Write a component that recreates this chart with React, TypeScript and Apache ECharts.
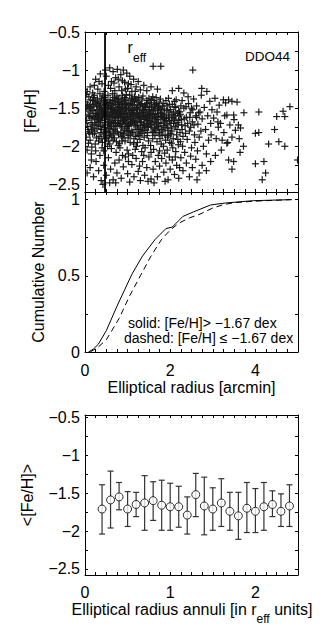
import React, { useEffect, useRef } from 'react';
import * as echarts from 'echarts';

// ---------- Data ----------
// Top panel: [Fe/H] vs elliptical radius (arcmin)
const scatterPoints: number[][] = [
  // upper fringe
  [0.12,-1.22],[0.18,-1.3],[0.25,-1.12],[0.3,-1.25],[0.36,-1.05],[0.4,-1.18],[0.45,-1.28],[0.5,-1.08],[0.55,-1.2],[0.58,-0.97],
  [0.62,-1.15],[0.66,-1.02],[0.7,-1.27],[0.72,-1.1],[0.76,-0.99],[0.8,-1.22],[0.84,-1.06],[0.88,-1.14],[0.9,-1.0],[0.95,-1.25],
  [0.98,-1.04],[1.02,-1.18],[1.05,-1.08],[1.1,-1.28],[1.14,-1.12],[1.2,-1.22],[1.25,-1.15],[1.3,-1.26],[0.05,-1.28],[0.22,-1.2],
  [0.33,-1.15],[0.48,-1.0],[0.6,-1.24],[0.68,-1.17],[0.78,-1.12],[0.86,-1.27],[0.93,-1.16],[1.0,-1.24],[1.08,-1.19],[1.18,-1.28],
  [1.38,-1.2],[1.45,-1.27],[1.6,-0.95],[1.78,-0.95],[2.53,-1.0],[1.55,-1.22],[1.7,-1.25],[2.05,-1.27],[2.2,-1.24],[2.32,-1.3],
  // dense core
  [0.02,-1.42],[0.04,-1.66],[0.07,-1.51],[0.03,-1.88],[0.09,-1.35],[0.06,-1.74],[0.01,-1.58],[0.08,-1.96],[0.05,-2.05],[0.1,-1.47],[0.04,-1.32],[0.08,-1.81],
  [0.11,-1.61],[0.13,-1.39],[0.15,-1.78],[0.12,-1.92],[0.17,-1.53],[0.19,-1.45],[0.14,-1.69],[0.16,-2.01],[0.18,-1.84],[0.2,-1.36],[0.12,-1.55],[0.17,-1.72],[0.15,-2.1],[0.19,-1.62],
  [0.21,-1.48],[0.23,-1.71],[0.25,-1.57],[0.27,-1.89],[0.22,-1.33],[0.29,-1.65],[0.24,-1.97],[0.26,-1.43],[0.28,-1.77],[0.3,-1.52],[0.22,-1.83],[0.27,-1.6],[0.25,-2.06],[0.29,-1.38],[0.23,-1.64],
  [0.31,-1.44],[0.33,-1.68],[0.35,-1.55],[0.37,-1.82],[0.39,-1.37],[0.32,-1.93],[0.34,-1.49],[0.36,-1.74],[0.38,-1.61],[0.4,-2.02],[0.31,-1.59],[0.35,-1.31],[0.37,-1.46],[0.39,-1.78],[0.33,-1.87],[0.36,-1.66],[0.4,-1.53],
  [0.41,-1.62],[0.43,-1.4],[0.45,-1.75],[0.47,-1.51],[0.49,-1.88],[0.42,-1.34],[0.44,-1.57],[0.46,-1.69],[0.48,-1.45],[0.5,-1.8],[0.41,-1.95],[0.45,-1.36],[0.47,-1.63],[0.43,-1.84],[0.49,-1.55],[0.44,-2.06],[0.5,-1.42],
  [0.51,-1.58],[0.53,-1.72],[0.55,-1.47],[0.57,-1.86],[0.59,-1.39],[0.52,-1.65],[0.54,-1.33],[0.56,-1.6],[0.58,-1.77],[0.6,-1.52],[0.51,-1.9],[0.55,-1.68],[0.57,-1.43],[0.53,-2.0],[0.59,-1.62],[0.52,-1.49],[0.58,-1.97],[0.56,-1.81],
  [0.61,-1.44],[0.63,-1.67],[0.65,-1.55],[0.67,-1.83],[0.69,-1.36],[0.62,-1.74],[0.64,-1.5],[0.66,-1.92],[0.68,-1.61],[0.7,-1.41],[0.61,-1.58],[0.65,-1.31],[0.67,-1.7],[0.63,-1.88],[0.69,-1.53],[0.62,-2.03],[0.68,-1.78],[0.66,-1.46],
  [0.71,-1.57],[0.73,-1.38],[0.75,-1.73],[0.77,-1.49],[0.79,-1.85],[0.72,-1.63],[0.74,-1.94],[0.76,-1.42],[0.78,-1.66],[0.8,-1.55],[0.71,-1.8],[0.75,-1.34],[0.77,-1.6],[0.73,-2.08],[0.79,-1.45],[0.72,-1.7],[0.78,-1.99],[0.76,-1.52],
  [0.81,-1.48],[0.83,-1.71],[0.85,-1.39],[0.87,-1.62],[0.89,-1.89],[0.82,-1.56],[0.84,-1.82],[0.86,-1.45],[0.88,-1.33],[0.9,-1.67],[0.81,-1.96],[0.85,-1.59],[0.87,-1.76],[0.83,-1.52],[0.89,-1.41],[0.82,-2.02],[0.88,-1.64],[0.86,-1.87],
  [0.91,-1.54],[0.93,-1.36],[0.95,-1.69],[0.97,-1.47],[0.99,-1.81],[0.92,-1.61],[0.94,-1.93],[0.96,-1.4],[0.98,-1.58],[1.0,-1.73],[0.91,-1.85],[0.95,-1.5],[0.97,-1.32],[0.93,-1.66],[0.99,-2.05],[0.92,-1.44],[0.98,-1.77],[0.96,-1.62],
  [1.01,-1.43],[1.03,-1.65],[1.05,-1.52],[1.07,-1.84],[1.09,-1.37],[1.02,-1.74],[1.04,-1.58],[1.06,-1.95],[1.08,-1.46],[1.1,-1.68],[1.01,-1.89],[1.05,-1.33],[1.07,-1.61],[1.03,-1.79],[1.09,-1.55],[1.02,-2.1],[1.08,-1.7],
  [1.11,-1.56],[1.13,-1.41],[1.15,-1.72],[1.17,-1.49],[1.19,-1.87],[1.12,-1.63],[1.14,-1.97],[1.16,-1.35],[1.18,-1.6],[1.2,-1.78],[1.11,-1.45],[1.15,-1.9],[1.17,-1.67],[1.13,-1.53],[1.19,-1.38],[1.12,-1.82],[1.18,-2.04],
  [1.21,-1.5],[1.23,-1.73],[1.25,-1.42],[1.27,-1.64],[1.29,-1.91],[1.22,-1.57],[1.24,-1.84],[1.26,-1.36],[1.28,-1.55],[1.3,-1.69],[1.21,-2.0],[1.25,-1.61],[1.27,-1.46],[1.23,-1.95],[1.29,-1.78],[1.22,-1.4],
  [1.31,-1.62],[1.33,-1.44],[1.35,-1.76],[1.37,-1.53],[1.39,-1.88],[1.32,-1.68],[1.34,-1.38],[1.36,-1.99],[1.38,-1.59],[1.4,-1.47],[1.31,-1.81],[1.35,-1.56],[1.37,-1.71],[1.33,-2.07],[1.39,-1.65],[1.36,-1.34],
  [1.41,-1.55],[1.43,-1.79],[1.45,-1.4],[1.47,-1.66],[1.49,-1.93],[1.42,-1.48],[1.44,-1.7],[1.46,-1.86],[1.48,-1.58],[1.5,-1.37],[1.41,-2.02],[1.45,-1.62],[1.47,-1.82],[1.43,-1.52],[1.49,-1.74],
  [1.51,-1.6],[1.53,-1.43],[1.55,-1.75],[1.57,-1.52],[1.59,-1.9],[1.52,-1.68],[1.54,-1.99],[1.56,-1.39],[1.58,-1.64],[1.6,-1.81],[1.51,-1.49],[1.55,-2.08],[1.57,-1.71],[1.53,-1.57],[1.59,-1.35],
  [1.61,-1.53],[1.63,-1.77],[1.65,-1.46],[1.67,-1.63],[1.69,-1.94],[1.62,-1.4],[1.64,-1.86],[1.66,-1.58],[1.68,-1.72],[1.7,-1.5],[1.61,-2.04],[1.65,-1.67],[1.67,-1.36],[1.63,-1.61],
  [1.71,-1.65],[1.73,-1.48],[1.75,-1.82],[1.77,-1.56],[1.79,-1.97],[1.72,-1.74],[1.74,-1.42],[1.76,-1.9],[1.78,-1.61],[1.8,-1.78],[1.71,-1.53],[1.75,-2.06],[1.77,-1.38],[1.73,-1.69],
  [1.81,-1.57],[1.83,-1.8],[1.85,-1.44],[1.87,-1.68],[1.89,-1.92],[1.82,-1.62],[1.84,-2.0],[1.86,-1.51],[1.88,-1.75],[1.9,-1.4],[1.81,-1.86],[1.85,-1.64],[1.87,-2.09],
  [1.91,-1.63],[1.93,-1.47],[1.95,-1.79],[1.97,-1.55],[1.99,-1.95],[1.92,-1.72],[1.94,-1.88],[1.96,-1.37],[1.98,-1.67],[2.0,-1.83],[1.93,-2.05],[1.97,-1.6],
  [2.01,-1.52],[2.03,-1.76],[2.05,-1.45],[2.07,-1.9],[2.09,-1.64],[2.02,-1.84],[2.04,-1.58],[2.06,-2.02],[2.08,-1.7],[2.1,-1.41],[2.03,-1.96],[2.07,-1.62],
  [2.11,-1.66],[2.13,-1.49],[2.15,-1.85],[2.17,-1.57],[2.19,-1.98],[2.12,-1.74],[2.14,-1.39],[2.16,-1.69],[2.18,-1.91],[2.2,-1.54],[2.13,-2.07],
  [2.21,-1.6],[2.23,-1.82],[2.25,-1.47],[2.27,-1.72],[2.29,-2.0],[2.22,-1.55],[2.24,-1.94],[2.26,-1.65],[2.28,-1.4],[2.3,-1.87],
  // dense core, second layer
  [0.03,-1.5],[0.06,-1.45],[0.09,-1.6],[0.11,-1.83],[0.14,-1.48],[0.16,-1.63],[0.19,-1.76],[0.21,-1.57],[0.24,-1.41],[0.26,-1.69],
  [0.28,-1.52],[0.31,-1.73],[0.33,-1.58],[0.35,-1.42],[0.37,-1.66],[0.39,-1.51],[0.42,-1.72],[0.44,-1.47],[0.46,-1.6],[0.48,-1.82],
  [0.02,-1.7],[0.07,-1.78],[0.13,-1.5],[0.18,-1.4],[0.23,-1.8],[0.27,-1.46],[0.32,-1.64],[0.38,-1.9],[0.43,-1.55],[0.47,-1.43],
  [0.52,-1.55],[0.54,-1.76],[0.56,-1.5],[0.58,-1.69],[0.6,-1.84],[0.62,-1.47],[0.64,-1.62],[0.66,-1.78],[0.68,-1.53],[0.7,-1.66],
  [0.72,-1.45],[0.74,-1.59],[0.76,-1.81],[0.78,-1.51],[0.8,-1.7],[0.82,-1.43],[0.84,-1.61],[0.86,-1.74],[0.88,-1.5],[0.9,-1.83],
  [0.92,-1.57],[0.94,-1.45],[0.96,-1.71],[0.98,-1.52],[1.0,-1.63],[0.53,-1.43],[0.57,-1.61],[0.61,-1.72],[0.65,-1.4],[0.69,-1.89],
  [0.73,-1.55],[0.77,-1.69],[0.81,-1.58],[0.85,-1.49],[0.89,-1.68],[0.93,-1.79],[0.97,-1.56],[0.55,-1.93],[0.63,-1.56],[0.71,-1.74],
  [0.79,-1.37],[0.87,-1.93],[0.95,-1.38],
  [1.02,-1.5],[1.04,-1.71],[1.06,-1.44],[1.08,-1.59],[1.1,-1.8],[1.12,-1.52],[1.14,-1.66],[1.16,-1.46],[1.18,-1.73],[1.2,-1.58],
  [1.22,-1.67],[1.24,-1.49],[1.26,-1.78],[1.28,-1.62],[1.3,-1.45],[1.32,-1.56],[1.34,-1.83],[1.36,-1.6],[1.38,-1.48],[1.4,-1.73],
  [1.42,-1.63],[1.44,-1.44],[1.46,-1.75],[1.48,-1.52],[1.5,-1.66],[1.03,-1.86],[1.07,-1.68],[1.11,-1.39],[1.15,-1.58],[1.19,-1.69],
  [1.23,-1.52],[1.27,-1.86],[1.31,-1.72],[1.35,-1.51],[1.39,-1.79],[1.43,-1.6],[1.47,-1.43],
  [1.52,-1.55],[1.54,-1.72],[1.56,-1.48],[1.58,-1.82],[1.6,-1.58],[1.62,-1.69],[1.64,-1.51],[1.66,-1.79],[1.68,-1.44],[1.7,-1.62],
  [1.72,-1.57],[1.74,-1.84],[1.76,-1.5],[1.78,-1.7],[1.8,-1.6],[1.82,-1.47],[1.84,-1.73],[1.86,-1.58],[1.88,-1.85],[1.9,-1.66],
  [1.92,-1.53],[1.94,-1.76],[1.96,-1.62],[1.98,-1.45],[2.0,-1.7],[2.04,-1.8],[2.08,-1.55],[2.12,-1.6],[2.16,-1.78],[2.2,-1.66],
  [1.55,-1.63],[1.63,-1.45],[1.71,-1.76],[1.79,-1.52],[1.87,-1.63],[1.95,-1.86],[2.03,-1.66],[2.11,-1.48],[2.19,-1.72],
  [2.24,-1.58],[2.28,-1.78],[2.33,-1.64],[2.37,-1.48],[2.41,-1.7],[2.46,-1.62],[2.5,-1.5],[2.56,-1.72],[2.62,-1.62],[2.67,-1.56],
  // intermediate radii
  [2.32,-1.5],[2.35,-1.73],[2.38,-1.62],[2.4,-1.91],[2.43,-1.44],[2.45,-1.8],[2.47,-1.56],[2.5,-2.02],[2.52,-1.68],[2.55,-1.38],
  [2.57,-1.85],[2.6,-1.6],[2.34,-2.08],[2.42,-1.35],[2.48,-1.75],[2.58,-1.95],[2.36,-1.83],[2.53,-1.52],
  [2.62,-1.47],[2.65,-1.71],[2.68,-1.88],[2.7,-1.55],[2.73,-1.33],[2.75,-1.64],[2.78,-2.0],[2.8,-1.49],[2.83,-1.78],[2.86,-1.28],
  [2.88,-1.6],[2.9,-1.92],[2.93,-1.41],[2.95,-1.7],[2.98,-1.52],[2.64,-2.06],[2.72,-1.8],[2.85,-2.1],[2.74,-1.24],[2.96,-1.85],
  [3.02,-1.63],[3.05,-1.37],[3.08,-1.9],[3.1,-1.55],[3.13,-1.75],[3.15,-1.46],[3.18,-1.7],[3.2,-2.05],[3.22,-1.92],[3.25,-1.39],
  [3.28,-1.6],[3.3,-1.43],[3.33,-1.96],[3.06,-2.12],[3.12,-1.68],[3.26,-1.82],
  // outer sparse stars
  [3.37,-1.39],[3.45,-1.41],[3.57,-1.42],[3.33,-1.59],[3.49,-1.59],[3.73,-1.56],[4.08,-1.55],[4.5,-1.61],[4.65,-1.54],[4.69,-1.61],
  [4.81,-1.48],[3.53,-1.79],[3.65,-1.76],[3.6,-1.72],[4.0,-1.83],[4.08,-1.82],[4.45,-1.78],[4.31,-1.97],[4.55,-1.94],[4.69,-2.0],
  [3.35,-1.95],[3.45,-1.88],[3.62,-1.9],[3.72,-2.0],[3.64,-2.08],[3.37,-2.18],[3.49,-2.2],[3.45,-2.3],[4.0,-2.23],[4.2,-2.2],
  [4.24,-2.35],[4.16,-2.44],[4.99,-2.18],[3.4,-1.72],[3.5,-1.65],
  // lower fringe
  [0.05,-2.35],[0.12,-2.28],[0.2,-2.4],[0.26,-2.2],[0.32,-2.32],[0.38,-2.45],[0.44,-2.25],[0.5,-2.38],[0.55,-2.15],[0.6,-2.3],
  [0.66,-2.44],[0.7,-2.22],[0.75,-2.35],[0.8,-2.18],[0.85,-2.42],[0.9,-2.27],[0.95,-2.14],[1.0,-2.36],[1.05,-2.47],[1.1,-2.24],
  [1.15,-2.4],[1.2,-2.16],[1.25,-2.33],[1.3,-2.45],[1.35,-2.2],[1.4,-2.38],[1.45,-2.28],[1.5,-2.14],[1.55,-2.43],[1.6,-2.3],
  [1.65,-2.2],[1.7,-2.4],[1.75,-2.26],[1.8,-2.16],[1.85,-2.34],[1.9,-2.22],[1.95,-2.44],[2.0,-2.3],[2.05,-2.18],[2.1,-2.37],
  [2.15,-2.25],[2.2,-2.42],[2.25,-2.15],[2.3,-2.32],[2.38,-2.22],[2.45,-2.4],[2.52,-2.28],[2.6,-2.17],[2.68,-2.35],[2.75,-2.25],
  [2.85,-2.32],[2.95,-2.2],[0.15,-2.18],[0.35,-2.12],[0.58,-2.48],[0.88,-2.12],[1.12,-2.12],[1.38,-2.12],[1.62,-2.48],[1.88,-2.46],
  [2.12,-2.14],[0.42,-2.5],[0.72,-2.48],[1.02,-2.2],[1.28,-2.26],[1.48,-2.46],[1.72,-2.12],[1.98,-2.14],[2.22,-2.28],[2.48,-2.13],[2.63,-2.44],
];

const rEff = 0.47;

// Middle panel: cumulative distributions
const solidCurve: number[][] = [
  [0.08,0],[0.2,0.02],[0.31,0.05],[0.5,0.14],[0.75,0.3],[0.95,0.42],[1.1,0.51],[1.35,0.63],[1.65,0.74],
  [1.9,0.81],[2.05,0.82],[2.3,0.89],[2.55,0.92],[2.95,0.965],[3.3,0.978],[3.95,0.993],[4.85,1.0],
];
const dashedCurve: number[][] = [
  [0.12,0],[0.3,0.03],[0.5,0.08],[0.8,0.22],[1.05,0.37],[1.3,0.5],[1.55,0.63],[1.8,0.74],[2.0,0.8],
  [2.2,0.845],[2.45,0.88],[2.7,0.905],[3.0,0.945],[3.25,0.967],[3.5,0.98],[4.0,0.99],[4.85,1.0],
];

// Bottom panel: mean [Fe/H] in annuli
const annuliX = [0.2,0.3,0.4,0.5,0.6,0.7,0.8,0.9,1.0,1.1,1.2,1.3,1.4,1.5,1.6,1.7,1.8,1.9,2.0,2.1,2.2,2.3,2.4];
const annuliMean = [-1.71,-1.59,-1.55,-1.71,-1.65,-1.63,-1.6,-1.66,-1.68,-1.68,-1.79,-1.52,-1.67,-1.71,-1.63,-1.74,-1.8,-1.7,-1.74,-1.68,-1.65,-1.74,-1.67];
const annuliHigh = [-1.39,-1.21,-1.36,-1.48,-1.49,-1.27,-1.35,-1.33,-1.37,-1.41,-1.55,-1.24,-1.29,-1.43,-1.31,-1.49,-1.49,-1.36,-1.44,-1.36,-1.47,-1.51,-1.39];
const annuliLow = [-2.04,-1.96,-1.72,-1.94,-1.81,-1.99,-1.86,-1.99,-1.99,-1.95,-2.04,-1.81,-2.05,-1.99,-1.94,-1.99,-2.11,-2.02,-2.02,-1.99,-1.81,-1.94,-1.94];

// Tick values
const fehLabels = [-2.5, -2, -1.5, -1, -0.5];
const fehTicks = [-2.5,-2.25,-2,-1.75,-1.5,-1.25,-1,-0.75,-0.5];
const cumLabels = [0, 0.5, 1];
const cumTicks = [0, 0.25, 0.5, 0.75, 1];
const radiusLabels = [0, 2, 4];
const radiusTicks = [0,0.25,0.5,0.75,1,1.25,1.5,1.75,2,2.25,2.5,2.75,3,3.25,3.5,3.75,4,4.25,4.5,4.75,5];
const annuliLabels = [0, 1, 2];
const annuliTicks = [0,0.125,0.25,0.375,0.5,0.625,0.75,0.875,1,1.125,1.25,1.375,1.5,1.625,1.75,1.875,2,2.125,2.25,2.375,2.5];

const FONT = '"Liberation Sans", Arial, Helvetica, sans-serif';
const fmt = (v: number) => String(v).replace('-', '\u2212');

function axis(opts: any) {
  const { gridIndex, position, min, max, ticks, labels, margin } = opts;
  return {
    type: 'value',
    gridIndex,
    position,
    min,
    max,
    axisLine: { show: true, onZero: false, lineStyle: { color: '#000', width: 1 } },
    splitLine: { show: false },
    axisTick: { show: true, inside: true, length: 3, customValues: ticks, lineStyle: { color: '#000', width: 1 } },
    axisLabel: labels
      ? { show: true, customValues: labels, formatter: fmt, color: '#000', fontSize: 16, fontFamily: FONT, margin }
      : { show: false },
  };
}

export default function App() {
  const ref = useRef<HTMLDivElement>(null);
  useEffect(() => {
    if (!ref.current) return;
    const chart = echarts.init(ref.current, undefined, { renderer: 'svg' });

    const plus = (params: any, api: any) => {
      const p = api.coord([api.value(0), api.value(1)]);
      const s = 3.5;
      const st = { stroke: '#1a1a1a', lineWidth: 1.2 };
      return {
        type: 'group',
        children: [
          { type: 'line', shape: { x1: p[0] - s, y1: p[1], x2: p[0] + s, y2: p[1] }, style: st },
          { type: 'line', shape: { x1: p[0], y1: p[1] - s, x2: p[0], y2: p[1] + s }, style: st },
        ],
      };
    };

    const errorBar = (params: any, api: any) => {
      const top = api.coord([api.value(0), api.value(1)]);
      const bot = api.coord([api.value(0), api.value(2)]);
      const c = 3;
      const st = { stroke: '#333', lineWidth: 1.2 };
      return {
        type: 'group',
        children: [
          { type: 'line', shape: { x1: top[0], y1: top[1], x2: bot[0], y2: bot[1] }, style: st },
          { type: 'line', shape: { x1: top[0] - c, y1: top[1], x2: top[0] + c, y2: top[1] }, style: st },
          { type: 'line', shape: { x1: bot[0] - c, y1: bot[1], x2: bot[0] + c, y2: bot[1] }, style: st },
        ],
      };
    };

    const topMin = -2.6, topMax = -0.5;
    const botMin = -2.58, botMax = -0.47;

    const option: any = {
      animation: false,
      backgroundColor: '#fff',
      textStyle: { fontFamily: FONT },
      grid: [
        { left: 85, top: 32, width: 213, height: 160 },
        { left: 85, top: 192, width: 213, height: 160 },
        { left: 85, top: 415, width: 213, height: 160 },
      ],
      xAxis: [
        axis({ gridIndex: 0, position: 'bottom', min: 0, max: 5, ticks: radiusTicks }),
        axis({ gridIndex: 0, position: 'top', min: 0, max: 5, ticks: radiusTicks }),
        axis({ gridIndex: 1, position: 'bottom', min: 0, max: 5, ticks: radiusTicks, labels: radiusLabels, margin: 10 }),
        axis({ gridIndex: 1, position: 'top', min: 0, max: 5, ticks: radiusTicks }),
        axis({ gridIndex: 2, position: 'bottom', min: 0, max: 2.5, ticks: annuliTicks, labels: annuliLabels, margin: 9 }),
        axis({ gridIndex: 2, position: 'top', min: 0, max: 2.5, ticks: annuliTicks }),
      ],
      yAxis: [
        axis({ gridIndex: 0, position: 'left', min: topMin, max: topMax, ticks: fehTicks, labels: fehLabels, margin: 5 }),
        axis({ gridIndex: 0, position: 'right', min: topMin, max: topMax, ticks: fehTicks }),
        axis({ gridIndex: 1, position: 'left', min: 0, max: 1.05, ticks: cumTicks, labels: cumLabels, margin: 5 }),
        axis({ gridIndex: 1, position: 'right', min: 0, max: 1.05, ticks: cumTicks }),
        axis({ gridIndex: 2, position: 'left', min: botMin, max: botMax, ticks: fehTicks, labels: fehLabels, margin: 5 }),
        axis({ gridIndex: 2, position: 'right', min: botMin, max: botMax, ticks: fehTicks }),
      ],
      series: [
        {
          type: 'custom',
          xAxisIndex: 0,
          yAxisIndex: 0,
          renderItem: plus,
          encode: { x: 0, y: 1 },
          data: scatterPoints,
          clip: true,
          silent: true,
        },
        {
          type: 'line',
          xAxisIndex: 0,
          yAxisIndex: 0,
          data: [[rEff, topMin], [rEff, topMax]],
          showSymbol: false,
          lineStyle: { color: '#000', width: 1.8 },
          silent: true,
        },
        {
          type: 'line',
          xAxisIndex: 2,
          yAxisIndex: 2,
          data: solidCurve,
          showSymbol: false,
          lineStyle: { color: '#000', width: 1 },
          silent: true,
        },
        {
          type: 'line',
          xAxisIndex: 2,
          yAxisIndex: 2,
          data: dashedCurve,
          showSymbol: false,
          lineStyle: { color: '#000', width: 1, type: [6, 4] },
          silent: true,
        },
        {
          type: 'custom',
          xAxisIndex: 4,
          yAxisIndex: 4,
          renderItem: errorBar,
          encode: { x: 0, y: [1, 2] },
          data: annuliX.map((x, i) => [x, annuliHigh[i], annuliLow[i]]),
          silent: true,
        },
        {
          type: 'scatter',
          xAxisIndex: 4,
          yAxisIndex: 4,
          symbol: 'circle',
          symbolSize: 8,
          data: annuliX.map((x, i) => [x, annuliMean[i]]),
          itemStyle: { color: '#fff', borderColor: '#000', borderWidth: 1 },
          silent: true,
        },
      ],
      graphic: [
        { type: 'text', x: 127.5, y: 47, style: { text: 'r', fontSize: 16, fontFamily: FONT, fill: '#000', align: 'left', verticalAlign: 'middle' } },
        { type: 'text', x: 133, y: 57.5, style: { text: 'eff', fontSize: 12, fontFamily: FONT, fill: '#000', align: 'left', verticalAlign: 'middle' } },
        { type: 'text', x: 290, y: 56.5, style: { text: 'DDO44', fontSize: 13.5, fontFamily: FONT, fill: '#000', align: 'right', verticalAlign: 'middle' } },
        { type: 'text', x: 128, y: 322.5, style: { text: 'solid: [Fe/H]> \u22121.67 dex', fontSize: 14, fontFamily: FONT, fill: '#000', align: 'left', verticalAlign: 'middle' } },
        { type: 'text', x: 124, y: 337.5, style: { text: 'dashed: [Fe/H] \u2264 \u22121.67 dex', fontSize: 14, fontFamily: FONT, fill: '#000', align: 'left', verticalAlign: 'middle' } },
        { type: 'text', x: 30, y: 111, rotation: Math.PI / 2, style: { text: '[Fe/H]', fontSize: 16, fontFamily: FONT, fill: '#000', align: 'center', verticalAlign: 'middle' } },
        { type: 'text', x: 38, y: 272, rotation: Math.PI / 2, style: { text: 'Cumulative Number', fontSize: 16, fontFamily: FONT, fill: '#000', align: 'center', verticalAlign: 'middle' } },
        { type: 'text', x: 27, y: 495, rotation: Math.PI / 2, style: { text: '<[Fe/H]>', fontSize: 16, fontFamily: FONT, fill: '#000', align: 'center', verticalAlign: 'middle' } },
        { type: 'text', x: 191.5, y: 387.5, style: { text: 'Elliptical radius [arcmin]', fontSize: 16, fontFamily: FONT, fill: '#000', align: 'center', verticalAlign: 'middle' } },
        {
          type: 'text',
          x: 192,
          y: 613,
          style: {
            text: '{a|Elliptical radius annuli [in r}{s|eff}{a| units]}',
            fontFamily: FONT,
            fill: '#000',
            align: 'center',
            verticalAlign: 'middle',
            rich: {
              a: { fontSize: 16, fontFamily: FONT, lineHeight: 24, verticalAlign: 'top', fill: '#000' },
              s: { fontSize: 12, fontFamily: FONT, lineHeight: 12, verticalAlign: 'bottom', fill: '#000' },
            },
          },
        },
      ],
    };

    chart.setOption(option);
    return () => chart.dispose();
  }, []);

  return (
    <div
      ref={ref}
      style={{ position: 'absolute', left: 0, top: 0, width: 327, height: 640, background: '#fff' }}
    />
  );
}
